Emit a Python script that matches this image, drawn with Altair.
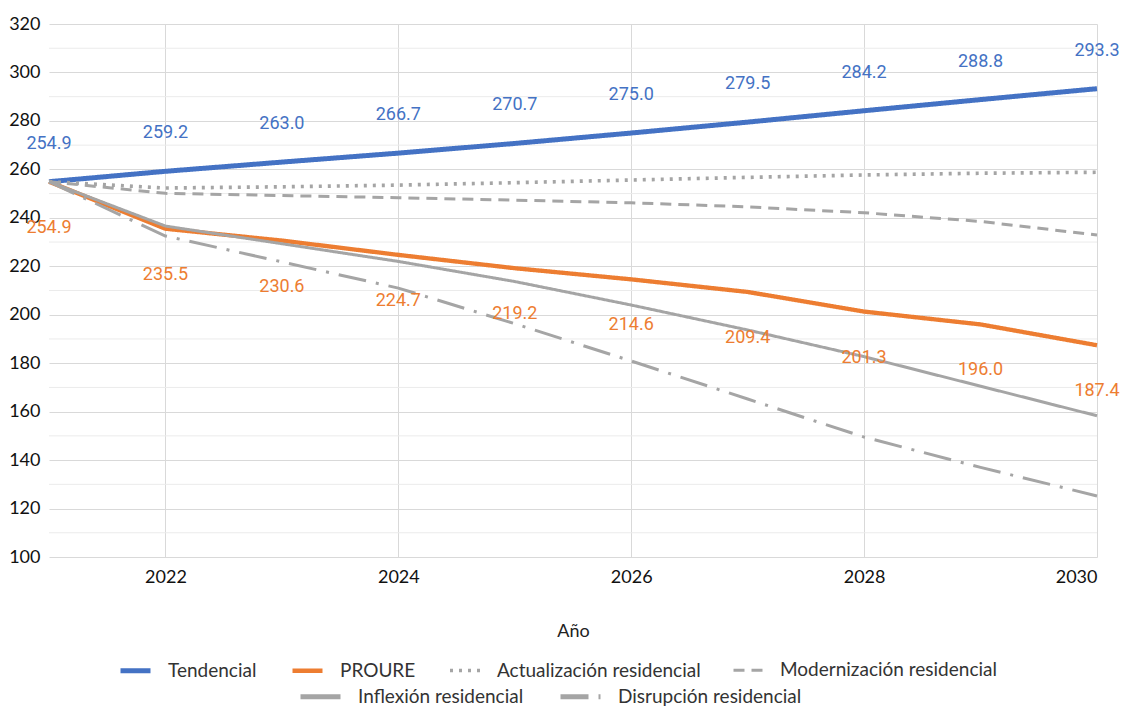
import altair as alt
import pandas as pd

# ---- data ----
years = [2021, 2022, 2023, 2024, 2025, 2026, 2027, 2028, 2029, 2030]
tendencial = [254.9, 259.2, 263.0, 266.7, 270.7, 275.0, 279.5, 284.2, 288.8, 293.3]
proure = [254.9, 235.5, 230.6, 224.7, 219.2, 214.6, 209.4, 201.3, 196.0, 187.4]
actualizacion = [254.9, 252.3, 252.8, 253.5, 254.5, 255.6, 256.7, 257.7, 258.4, 258.8]
modernizacion = [254.9, 250.1, 249.2, 248.3, 247.3, 246.2, 244.5, 242.1, 238.5, 232.9]
inflexion = [254.9, 236.6, 229.3, 222.0, 213.7, 204.0, 193.7, 182.7, 170.5, 158.3]
disrupcion = [254.9, 232.5, 221.8, 211.0, 196.3, 180.9, 165.2, 149.5, 137.0, 125.2]

names_a = ["Tendencial", "PROURE", "Actualización residencial", "Modernización residencial"]
names_b = ["Inflexión residencial", "Disrupción residencial"]
x_ticks = [2022, 2024, 2026, 2028, 2030]
y_ticks = [100, 120, 140, 160, 180, 200, 220, 240, 260, 280, 300, 320]
y_minor = [110, 130, 150, 170, 190, 210, 230, 250, 270, 290, 310]

series_a = [tendencial, proure, actualizacion, modernizacion]
series_b = [inflexion, disrupcion]

df_a = pd.DataFrame([
    {"anio": y, "valor": v, "serie": n, "orden": i}
    for i, (n, vals) in enumerate(zip(names_a, series_a))
    for y, v in zip(years, vals)
])
df_b = pd.DataFrame([
    {"anio": y, "valor": v, "serie2": n, "orden": i}
    for i, (n, vals) in enumerate(zip(names_b, series_b))
    for y, v in zip(years, vals)
])
df_t = pd.DataFrame({"anio": years, "valor": tendencial})
df_p = pd.DataFrame({"anio": years, "valor": proure})
df_minor = pd.DataFrame({"valor": y_minor})

FONT_AX = "Lato"
FONT_LBL = "Roboto"

x_scale = alt.Scale(domain=[2021, 2030], nice=False, zero=False)
y_scale = alt.Scale(domain=[100, 320], nice=False, zero=False)

x_axis = alt.Axis(values=x_ticks, format="d", title="Año", grid=True,
                  gridColor="#D9D9D9", gridWidth=1, domain=False, ticks=False,
                  labelPadding=11, labelFont=FONT_AX, labelFontSize=18,
                  labelColor="#111111", titleFont=FONT_AX, titleFontSize=18,
                  titleFontWeight="normal", titleColor="#222222", titlePadding=36)
y_axis = alt.Axis(values=y_ticks, title=None, grid=True, gridColor="#D9D9D9",
                  gridWidth=1, domain=False, ticks=False, labelPadding=9,
                  labelFont=FONT_AX, labelFontSize=18, labelColor="#111111",
                  minExtent=36, maxExtent=36)

x_enc = alt.X("anio:Q", scale=x_scale, axis=x_axis)
y_enc = alt.Y("valor:Q", scale=y_scale, axis=y_axis)

minor = alt.Chart(df_minor).mark_rule(color="#EBEBEB", strokeWidth=1).encode(
    y=y_enc
)

legend_common = dict(
    orient="none", direction="horizontal", title=None, symbolType="stroke",
    symbolStrokeWidth=5, labelFont=FONT_AX, labelFontSize=19,
    labelColor="#333333", labelOffset=15, columnPadding=26, padding=0,
    labelLimit=0,
)

lines_a = alt.Chart(df_a).mark_line(strokeCap="butt").encode(
    x=x_enc, y=y_enc,
    color=alt.Color("serie:N",
                    scale=alt.Scale(domain=names_a,
                                    range=["#4472C4", "#ED7D31", "#A5A5A5", "#A5A5A5"]),
                    legend=alt.Legend(legendX=69, legendY=629, symbolSize=900,
                                      **legend_common)),
    strokeDash=alt.StrokeDash("serie:N",
                              scale=alt.Scale(domain=names_a,
                                              range=[[1, 0], [1, 0], [3, 6], [11, 7]]),
                              legend=alt.Legend(legendX=69, legendY=629, symbolSize=900,
                                                **legend_common)),
    strokeWidth=alt.StrokeWidth("serie:N",
                                scale=alt.Scale(domain=names_a, range=[5, 3, 3, 3]),
                                legend=None),
    order=alt.Order("orden:Q"),
)

lines_b = alt.Chart(df_b).mark_line(strokeCap="butt", strokeWidth=3).encode(
    x=x_enc, y=y_enc,
    color=alt.Color("serie2:N",
                    scale=alt.Scale(domain=names_b, range=["#A5A5A5", "#A5A5A5"]),
                    legend=alt.Legend(legendX=249, legendY=650, symbolSize=1600,
                                      **legend_common)),
    strokeDash=alt.StrokeDash("serie2:N",
                              scale=alt.Scale(domain=names_b,
                                              range=[[1, 0], [28, 10, 3, 10]]),
                              legend=alt.Legend(legendX=249, legendY=650, symbolSize=1600,
                                                **legend_common)),
)

lbl_t = alt.Chart(df_t).mark_text(
    font=FONT_LBL, fontSize=18, color="#4472C4", dy=-38, baseline="middle", align="center"
).encode(x=x_enc, y=y_enc, text=alt.Text("valor:Q", format=".1f"))

lbl_p = alt.Chart(df_p).mark_text(
    font=FONT_LBL, fontSize=18, color="#ED7D31", dy=46, baseline="middle", align="center"
).encode(x=x_enc, y=y_enc, text=alt.Text("valor:Q", format=".1f"))

chart = alt.layer(minor, lines_a, lines_b, lbl_t, lbl_p).resolve_scale(
    color="independent", strokeDash="independent", strokeWidth="independent"
).properties(
    width=1048, height=533,
    autosize=alt.AutoSizeParams(type="none"),
    padding={"left": 41, "top": 16, "right": 24, "bottom": 149},
).configure_view(stroke=None)

chart.save("out.html", embed_options={"renderer": "svg", "actions": False})
